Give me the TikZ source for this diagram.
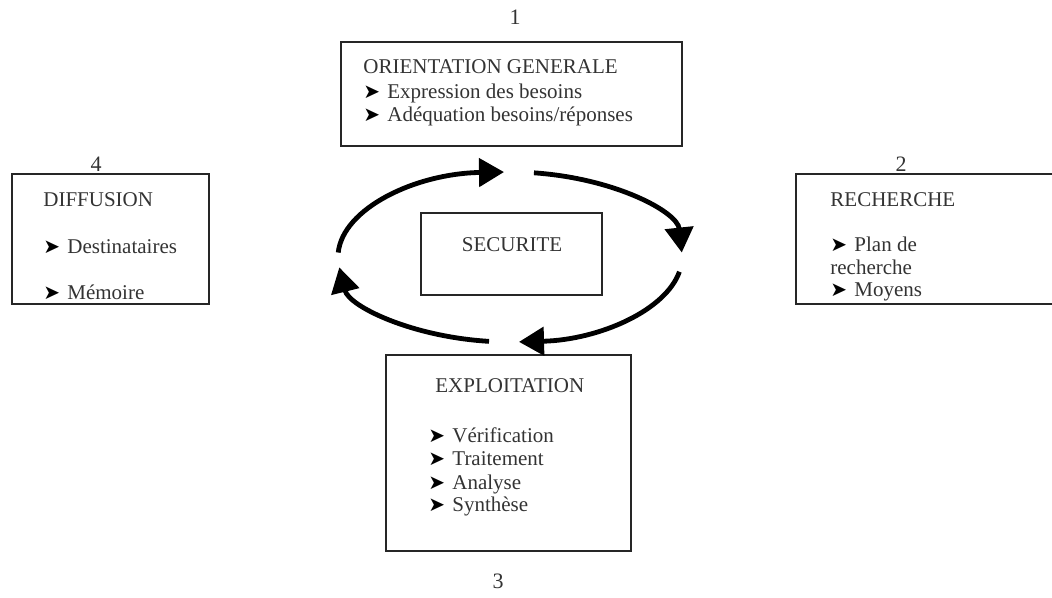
\documentclass[tikz,border=0pt]{standalone}
\usepackage{fontspec}
\setmainfont{Liberation Serif}
\newfontfamily\dingfont{DejaVu Sans}
\usetikzlibrary{arrows.meta}
\newcommand{\puce}{\makebox[12pt][l]{\dingfont\fontsize{10}{10}\selectfont\color{black}➤}}

\begin{document}
\begin{tikzpicture}[x=0.5pt, y=0.5pt,
    boite/.style={draw=black!85, line width=1pt, inner sep=0pt},
    txt/.style={anchor=base west, inner sep=0pt, text=black!80, font=\fontsize{10.5}{12}\selectfont},
    num/.style={anchor=base, inner sep=0pt, text=black!80, font=\fontsize{11}{12}\selectfont},
    fleche/.style={line width=2.4pt, -{Triangle[length=12.5pt, width=14pt]}}]
    \useasboundingbox (0,0) rectangle (1052,598);
    % les cadres
    \node[boite, minimum width=170.5pt, minimum height=52pt] (orient) at (511.5,504) {};
    \node[boite, minimum width=130pt, minimum height=65pt] (rech) at (926,359) {};
    \node[boite, minimum width=122.5pt, minimum height=98pt] (exploit) at (508.5,145) {};
    \node[boite, minimum width=98.5pt, minimum height=65pt] (diff) at (110.5,359) {};
    \node[boite, minimum width=90.5pt, minimum height=41pt] (secu) at (511.5,344) {};
    % les numeros
    \node[num] (n1) at (515,573) {1};
    \node[num] (n2) at (901,426) {2};
    \node[num] (n3) at (498,10) {3};
    \node[num] (n4) at (96,426) {4};
    % orientation generale
    \node[txt] (o1) at (363,524) {ORIENTATION GENERALE};
    \node[txt] (o2) at (363,499) {\puce Expression des besoins};
    \node[txt] (o3) at (363,476) {\puce Adéquation besoins/réponses};
    % recherche
    \node[txt] (r1) at (830,391) {RECHERCHE};
    \node[txt] (r2) at (830,346) {\puce Plan de};
    \node[txt] (r3) at (830,323) {recherche};
    \node[txt] (r4) at (830,301) {\puce Moyens};
    % exploitation
    \node[txt] (e1) at (435,205) {EXPLOITATION};
    \node[txt] (e2) at (428,155) {\puce Vérification};
    \node[txt] (e3) at (428,132) {\puce Traitement};
    \node[txt] (e4) at (428,108) {\puce Analyse};
    \node[txt] (e5) at (428,86) {\puce Synthèse};
    % diffusion
    \node[txt] (d1) at (43,391) {DIFFUSION};
    \node[txt] (d2) at (43,344) {\puce Destinataires};
    \node[txt] (d3) at (43,298) {\puce Mémoire};
    % securite
    \node[txt, anchor=base] (s1) at (512,346) {SECURITE};
    % le cycle
    \coordinate (centre) at (510,341);
    \draw[fleche] (centre) ++(177:86pt and 42.5pt) arc[start angle=177, end angle=92, x radius=86pt, y radius=42.5pt];
    \draw[fleche] (centre) ++(82:86pt and 42.5pt) arc[start angle=82, end angle=3, x radius=86pt, y radius=42.5pt];
    \draw[fleche] (centre) ++(-10:86pt and 42.5pt) arc[start angle=-10, end angle=-87, x radius=86pt, y radius=42.5pt];
    \draw[fleche] (centre) ++(-97:86pt and 42.5pt) arc[start angle=-97, end angle=-173, x radius=86pt, y radius=42.5pt];
\end{tikzpicture}
\end{document}
